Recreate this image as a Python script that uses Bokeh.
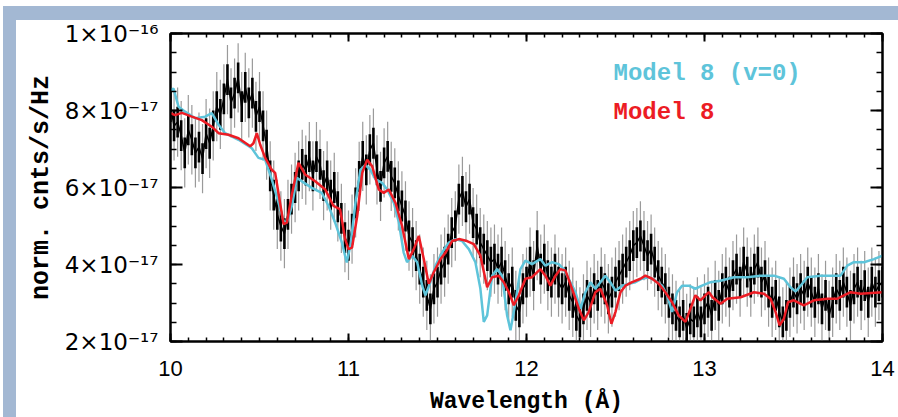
import numpy as np
from bokeh.plotting import figure
from bokeh.models import (LinearAxis, FixedTicker, CustomJSTickFormatter, Label,
                          ColumnDataSource)
from bokeh.embed import file_html
from bokeh.resources import INLINE

# ---------------- data (flux in units of 1e-17) ----------------
WL_START = 10.0
WL_STEP = 0.02
FLUX = [
    8.1, 7.6, 7.7, 7.35, 6.9, 7.5, 7.24, 6.9, 7.05, 6.75,
    7.4, 7.15, 7.6, 8.1, 7.9, 8.3, 8.8, 8.2, 8.45, 8.85,
    8.1, 8.6, 8.2, 8.45, 7.85, 8.1, 7.6, 7.1, 6.3, 5.8,
    5.3, 5.0, 4.8, 5.3, 5.7, 6.0, 6.3, 6.6, 6.45, 6.8,
    6.3, 6.8, 6.6, 6.05, 6.3, 5.8, 6.0, 5.5, 5.2, 4.7,
    4.5, 4.92, 5.6, 6.29, 6.81, 6.46, 6.98, 7.15, 6.46, 6.03,
    6.64, 6.81, 6.29, 6.12, 5.78, 5.52, 5.26, 4.74, 4.57, 4.23,
    3.88, 3.54, 3.2, 2.85, 3.37, 3.54, 3.88, 4.06, 4.4, 4.83,
    5.0, 5.7, 5.9, 5.5, 5.7, 5.09, 4.92, 4.57, 4.4, 4.23,
    4.06, 4.14, 3.88, 4.06, 3.71, 3.37, 3.54, 2.94, 2.77, 3.37,
    3.54, 4.06, 3.71, 4.49, 3.88, 4.14, 3.71, 3.54, 3.88, 3.54,
    3.37, 3.54, 3.2, 3.02, 2.68, 2.51, 2.85, 3.2, 3.02, 3.37,
    3.2, 3.54, 3.37, 3.11, 3.28, 3.54, 3.71, 3.88, 4.06, 4.23,
    4.49, 4.57, 4.74, 4.49, 4.23, 4.4, 4.06, 3.71, 3.54, 3.37,
    3.02, 2.85, 2.68, 2.51, 2.68, 2.34, 2.59, 2.51, 2.77, 2.51,
    2.85, 3.02, 2.68, 3.2, 2.94, 3.37, 3.54, 3.28, 3.71, 3.88,
    3.54, 4.06, 3.8, 3.54, 3.88, 4.06, 3.54, 3.71, 3.28, 3.02,
    3.2, 2.77, 2.51, 2.68, 3.02, 3.28, 3.11, 3.37, 3.2, 3.54,
    3.28, 3.02, 3.37, 2.85, 3.2, 2.68, 3.02, 3.37, 3.2, 3.54,
    3.28, 2.94, 3.37, 3.54, 3.2, 3.45, 3.02, 3.54, 3.28, 3.45, 3.54,
]
ERR_INNER = 0.4
ERR_OUTER = 0.9

CYAN_WL = [10.0, 10.017, 10.045, 10.082, 10.139, 10.195, 10.232, 10.27, 10.307, 10.382,
           10.457, 10.494, 10.532, 10.569, 10.607, 10.635, 10.654, 10.682, 10.71, 10.738,
           10.794, 10.85, 10.888, 10.925, 10.963, 10.99, 11.011, 11.039, 11.067, 11.095,
           11.123, 11.152, 11.189, 11.217, 11.255, 11.283, 11.31, 11.329, 11.357, 11.386,
           11.414, 11.432, 11.46, 11.489, 11.526, 11.564, 11.601, 11.638, 11.676, 11.713,
           11.741, 11.76, 11.779, 11.807, 11.835, 11.863, 11.891, 11.91, 11.938, 11.966,
           11.994, 12.031, 12.078, 12.106, 12.144, 12.181, 12.209, 12.237, 12.275, 12.303,
           12.331, 12.359, 12.387, 12.415, 12.443, 12.471, 12.5, 12.537, 12.575, 12.612,
           12.649, 12.687, 12.724, 12.762, 12.79, 12.818, 12.846, 12.874, 12.912, 12.949,
           12.986, 13.034, 13.09, 13.165, 13.24, 13.315, 13.39, 13.446, 13.484, 13.512,
           13.54, 13.577, 13.652, 13.764, 13.802, 13.839, 13.896, 13.952, 14.0]
CYAN_F = [8.53, 8.57, 8.10, 7.97, 7.80, 7.84, 7.93, 7.63, 7.41, 7.24,
          7.02, 6.77, 6.72, 6.21, 5.60, 5.13, 5.09, 5.52, 6.25, 6.16,
          5.99, 5.86, 5.52, 5.09, 4.57, 4.05, 4.5, 5.60, 6.46, 6.59,
          6.46, 6.21, 6.12, 5.95, 5.60, 5.09, 4.31, 4.06, 4.23, 4.06,
          3.45, 3.20, 3.54, 3.97, 4.31, 4.57, 4.66, 4.61, 4.40, 4.06,
          3.37, 2.51, 2.68, 3.71, 3.88, 3.71, 2.68, 2.29, 3.02, 3.88,
          4.10, 4.01, 4.14, 3.97, 4.06, 4.01, 3.88, 3.63, 3.28, 2.85,
          3.28, 3.54, 3.37, 3.54, 3.71, 3.54, 3.32, 3.45, 3.50, 3.54,
          3.63, 3.67, 3.58, 3.45, 3.20, 2.77, 3.28, 3.45, 3.45, 3.37,
          3.45, 3.54, 3.58, 3.67, 3.67, 3.71, 3.71, 3.63, 3.40, 3.30,
          3.45, 3.67, 3.71, 3.71, 3.97, 4.06, 4.06, 4.14, 4.23]

RED_WL = [10.0, 10.026, 10.064, 10.12, 10.176, 10.232, 10.27, 10.326, 10.382, 10.448,
          10.466, 10.485, 10.504, 10.532, 10.569, 10.588, 10.635, 10.654, 10.68, 10.719,
          10.756, 10.813, 10.869, 10.916, 10.953, 10.981, 11.0, 11.02, 11.049, 11.077,
          11.105, 11.133, 11.17, 11.198, 11.226, 11.264, 11.301, 11.339, 11.367, 11.395,
          11.423, 11.451, 11.479, 11.517, 11.545, 11.582, 11.62, 11.666, 11.704, 11.741,
          11.779, 11.807, 11.844, 11.872, 11.901, 11.929, 11.957, 11.994, 12.031, 12.078,
          12.106, 12.134, 12.163, 12.19, 12.219, 12.256, 12.294, 12.322, 12.35, 12.387,
          12.415, 12.453, 12.477, 12.5, 12.528, 12.556, 12.593, 12.64, 12.668, 12.706,
          12.743, 12.78, 12.818, 12.855, 12.893, 12.921, 12.949, 12.977, 13.005, 13.025,
          13.045, 13.09, 13.128, 13.203, 13.278, 13.334, 13.371, 13.399, 13.422, 13.446,
          13.469, 13.502, 13.558, 13.615, 13.69, 13.746, 13.783, 13.821, 13.877, 14.0]
RED_F = [7.93, 7.88, 7.94, 7.84, 7.75, 7.58, 7.41, 7.37, 7.28, 7.07,
         7.15, 7.41, 7.11, 6.77, 6.46, 6.38, 5.05, 5.09, 5.77, 6.64,
         6.34, 6.16, 5.95, 5.52, 5.43, 4.66, 4.40, 4.44, 5.26, 6.38,
         6.72, 6.55, 5.95, 5.86, 5.95, 5.60, 5.00, 4.14, 4.40, 4.74,
         4.14, 3.50, 3.80, 4.14, 4.31, 4.61, 4.66, 4.61, 4.53, 4.23,
         3.41, 3.67, 3.71, 3.54, 3.28, 2.94, 3.20, 3.63, 3.67, 3.88,
         3.71, 3.45, 3.71, 3.88, 3.84, 3.37, 2.85, 2.55, 2.77, 3.28,
         3.37, 2.94, 2.46, 2.77, 3.28, 3.45, 3.54, 3.63, 3.71, 3.63,
         3.50, 3.28, 3.02, 2.68, 2.51, 2.85, 3.20, 3.07, 3.20, 3.28,
         3.15, 2.98, 3.11, 3.15, 3.28, 3.24, 3.11, 2.77, 2.42, 2.59,
         3.02, 3.07, 2.94, 3.07, 3.11, 3.11, 3.20, 3.28, 3.24, 3.28]

X_TICKS = [10, 11, 12, 13, 14]
Y_TICKS = [2, 4, 6, 8, 10]
Y_TICK_LABELS = ["2×10⁻¹⁷", "4×10⁻¹⁷", "6×10⁻¹⁷", "8×10⁻¹⁷", "1×10⁻¹⁶"]
LEGEND_CYAN = "Model 8 (v=0)"
LEGEND_RED = "Model 8"
X_LABEL = "Wavelength (Å)"
Y_LABEL = "norm. cnts/s/Hz"

# ---------------- styling ----------------
CYAN = "#5ec4da"
RED = "#ec1c24"
BAND = "#a3b8d3"
MONO = "Liberation Mono"

wl = WL_START + WL_STEP * np.arange(len(FLUX))
flux = np.array(FLUX)
src = ColumnDataSource(dict(x=wl, y=flux,
                            lo1=flux - ERR_OUTER, hi1=flux + ERR_OUTER,
                            lo2=flux - ERR_INNER, hi2=flux + ERR_INNER))

# page frame bands painted behind a transparent plot border
page_bg = (f"linear-gradient({BAND},{BAND}) 3px 6px / 895px 14px no-repeat, "
           f"linear-gradient({BAND},{BAND}) 3px 6px / 13px 411px no-repeat, white")

p = figure(width=898, height=417, x_range=(10, 14), y_range=(2, 10),
           output_backend="svg", toolbar_location=None,
           min_border_left=170, min_border_right=16, min_border_top=33,
           min_border_bottom=74, background_fill_color="white",
           border_fill_alpha=0, outline_line_color="black",
           outline_line_width=2, styles={"background": page_bg})
p.grid.visible = False

x_minor = [10 + 0.1 * i for i in range(41)]
y_minor = [2 + 0.5 * i for i in range(17)]
xticker = FixedTicker(ticks=X_TICKS, minor_ticks=x_minor)
yticker = FixedTicker(ticks=Y_TICKS, minor_ticks=y_minor)

def style_axis(ax, major_in, minor_in):
    ax.axis_line_width = 2
    ax.major_tick_line_width = 2
    ax.minor_tick_line_width = 1.5
    ax.major_tick_in = major_in
    ax.major_tick_out = 0
    ax.minor_tick_in = minor_in
    ax.minor_tick_out = 0

xa = p.xaxis[0]
xa.ticker = xticker
style_axis(xa, 8, 4)
xa.major_label_text_font = "Liberation Sans"
xa.major_label_text_font_size = "22px"
xa.major_label_text_color = "black"
xa.major_label_standoff = 19
xa.axis_label = X_LABEL
xa.axis_label_text_font = MONO
xa.axis_label_text_font_style = "bold"
xa.axis_label_text_font_size = "23px"
xa.axis_label_text_color = "black"
xa.axis_label_standoff = 10

ya = p.yaxis[0]
ya.ticker = yticker
style_axis(ya, 12, 6)
ya.major_label_overrides = {t: s for t, s in zip(Y_TICKS, Y_TICK_LABELS)}
ya.major_label_text_font = "DejaVu Sans"
ya.major_label_text_font_size = "23px"
ya.major_label_text_color = "black"
ya.major_label_standoff = 12
ya.axis_label = Y_LABEL
ya.axis_label_text_font = MONO
ya.axis_label_text_font_style = "bold"
ya.axis_label_text_font_size = "25px"
ya.axis_label_text_color = "black"
ya.axis_label_standoff = 6

blank = CustomJSTickFormatter(code="return ''")
top = LinearAxis(ticker=xticker, formatter=blank)
style_axis(top, 8, 4)
p.add_layout(top, "above")
right = LinearAxis(ticker=yticker, formatter=blank)
style_axis(right, 12, 6)
p.add_layout(right, "right")

# data with error bars
p.segment(x0="x", y0="lo1", x1="x", y1="hi1", source=src, line_color="#9a9a9a", line_width=1.2)
p.segment(x0="x", y0="lo2", x1="x", y1="hi2", source=src, line_color="black", line_width=2.6)
p.line(x="x", y="y", source=src, line_color="black", line_width=1.5)

# models
p.line(CYAN_WL, CYAN_F, line_color=CYAN, line_width=2.5)
p.line(RED_WL, RED_F, line_color=RED, line_width=2.5)

# legend texts
p.add_layout(Label(x=12.489, y=8.97, text=LEGEND_CYAN, text_color=CYAN, text_font=MONO,
                   text_font_style="bold", text_font_size="24px", text_baseline="alphabetic"))
p.add_layout(Label(x=12.489, y=7.96, text=LEGEND_RED, text_color=RED, text_font=MONO,
                   text_font_style="bold", text_font_size="24px", text_baseline="alphabetic"))

open("out.html", "w").write(file_html(p, INLINE))
